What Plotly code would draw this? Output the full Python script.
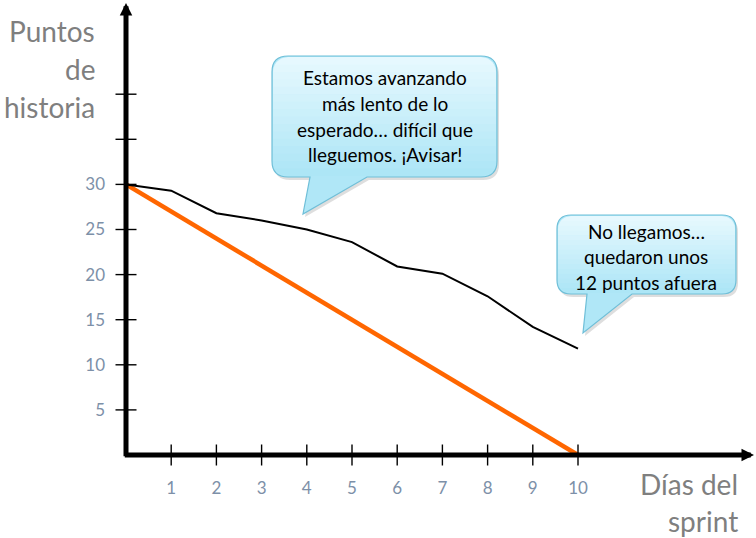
import plotly.graph_objects as go
import math

# ---------------- data ----------------
days = [0, 1, 2, 3, 4, 5, 6, 7, 8, 9, 10]
actual = [30, 29.3, 26.8, 26.0, 25.0, 23.6, 20.9, 20.1, 17.6, 14.2, 11.8]
ideal = [30, 27, 24, 21, 18, 15, 12, 9, 6, 3, 0]
x_ticks = [1, 2, 3, 4, 5, 6, 7, 8, 9, 10]
x_tick_labels = ["1", "2", "3", "4", "5", "6", "7", "8", "9", "10"]
y_ticks = [5, 10, 15, 20, 25, 30, 35, 40]
y_label_vals = [5, 10, 15, 20, 25, 30]
y_label_text = ["5", "10", "15", "20", "25", "30"]
callout1_lines = ["Estamos avanzando", "más lento de lo",
                  "esperado… difícil que", "lleguemos. ¡Avisar!"]
callout2_lines = ["No llegamos…", "quedaron unos", "12 puntos afuera"]

# ---------------- layout geometry ----------------
W, H = 756, 538
ML, MB = 126, 83
PLOT_W, PLOT_H = W - ML, H - MB
X_PX_PER_UNIT = 45.2
Y_PX_PER_UNIT = 9.02
X_MAX = PLOT_W / X_PX_PER_UNIT
Y_MAX = PLOT_H / Y_PX_PER_UNIT
FONT = "Lato, Open Sans, sans-serif"
TICK_COLOR = "#7d90a8"
TITLE_COLOR = "#7f7f7f"


def pp(x, y):
    """pixel -> paper (plot-area) coords"""
    return (x - ML) / PLOT_W, (PLOT_H - y) / PLOT_H


def path_from(points_cmds):
    s = ""
    for cmd, pts in points_cmds:
        s += cmd
        s += " ".join("%.5f,%.5f" % pp(x, y) for x, y in pts) + " "
    return s + "Z"


def callout_path(x0, y0, x1, y1, r, tl, tr, tip, dx=0, dy=0):
    x0, x1, tl, tr = x0 + dx, x1 + dx, tl + dx, tr + dx
    y0, y1 = y0 + dy, y1 + dy
    tip = (tip[0] + dx, tip[1] + dy)
    cmds = [
        ("M", [(x0 + r, y0)]), ("L", [(x1 - r, y0)]),
        ("Q", [(x1, y0), (x1, y0 + r)]), ("L", [(x1, y1 - r)]),
        ("Q", [(x1, y1), (x1 - r, y1)]), ("L", [(tr, y1)]),
        ("L", [tip]), ("L", [(tl, y1)]), ("L", [(x0 + r, y1)]),
        ("Q", [(x0, y1), (x0, y1 - r)]), ("L", [(x0, y0 + r)]),
        ("Q", [(x0, y0), (x0 + r, y0)]),
    ]
    return path_from(cmds)


def rr_extent(x0, y0, x1, y1, r, y):
    if y < y0 + r:
        d = y0 + r - y
    elif y > y1 - r:
        d = y - (y1 - r)
    else:
        d = 0
    d = min(d, r)
    off = r - math.sqrt(max(r * r - d * d, 0))
    return x0 + off, x1 - off


def mix(c1, c2, t):
    a = [int(c1[i:i + 2], 16) for i in (1, 3, 5)]
    b = [int(c2[i:i + 2], 16) for i in (1, 3, 5)]
    return "#%02x%02x%02x" % tuple(round(a[k] + (b[k] - a[k]) * t) for k in range(3))


def callout_shapes(x0, y0, x1, y1, r, tl, tr, tip):
    shapes = []
    # shadow
    shapes.append(dict(type="path", xref="paper", yref="paper",
                       path=callout_path(x0, y0, x1, y1, r, tl, tr, tip, 2, 3),
                       fillcolor="rgba(0,0,0,0.13)", line=dict(width=0)))
    # base with border
    shapes.append(dict(type="path", xref="paper", yref="paper",
                       path=callout_path(x0, y0, x1, y1, r, tl, tr, tip),
                       fillcolor="#b0e7f7", line=dict(color="#6fbfd8", width=1.2)))
    # gradient bands inside the box
    top_c, bot_c = "#e8f9fe", "#abe5f6"
    n = 16
    ix0, iy0, ix1, iy1, ir = x0 + 1, y0 + 1, x1 - 1, y1 - 1, r - 1
    for i in range(n):
        ya = iy0 + (iy1 - iy0) * i / n
        yb = iy0 + (iy1 - iy0) * (i + 1) / n + (0.6 if i < n - 1 else 0)
        yb = min(yb, iy1)
        steps = 6
        ys = [ya + (yb - ya) * k / steps for k in range(steps + 1)]
        left = [(rr_extent(ix0, iy0, ix1, iy1, ir, y)[0], y) for y in ys]
        right = [(rr_extent(ix0, iy0, ix1, iy1, ir, y)[1], y) for y in reversed(ys)]
        pts = left + right
        cmds = [("M", [pts[0]])] + [("L", [p]) for p in pts[1:]]
        shapes.append(dict(type="path", xref="paper", yref="paper",
                           path=path_from(cmds),
                           fillcolor=mix(top_c, bot_c, (i + 0.5) / n),
                           line=dict(width=0)))
    return shapes


fig = go.Figure()

fig.add_trace(go.Scatter(x=days, y=ideal, mode="lines",
                         line=dict(color="#ff6600", width=4.5),
                         hoverinfo="skip", showlegend=False))
fig.add_trace(go.Scatter(x=days, y=actual, mode="lines",
                         line=dict(color="#000000", width=2),
                         hoverinfo="skip", showlegend=False))
# tick marks crossing the axes
fig.add_trace(go.Scatter(x=x_ticks, y=[0] * len(x_ticks), mode="markers",
                         marker=dict(symbol="line-ns", size=15,
                                     line=dict(color="black", width=1.4)),
                         cliponaxis=False, hoverinfo="skip", showlegend=False))
fig.add_trace(go.Scatter(x=[0] * len(y_ticks), y=y_ticks, mode="markers",
                         marker=dict(symbol="line-ew", size=15,
                                     line=dict(color="black", width=1.4)),
                         cliponaxis=False, hoverinfo="skip", showlegend=False))

shapes = []
shapes += callout_shapes(272, 56, 497, 177, 16, 310, 367, (303, 214))
shapes += callout_shapes(557, 215, 736, 294, 14, 587, 632, (583, 333))

annotations = []
# axes with arrowheads
annotations.append(dict(x=0, y=(PLOT_H - 3) / Y_PX_PER_UNIT, ax=0, ay=-0.3,
                        xref="x", yref="y", axref="x", ayref="y", text="",
                        showarrow=True, arrowhead=2, arrowsize=0.5,
                        arrowwidth=5, arrowcolor="black", standoff=0))
annotations.append(dict(x=(754 - ML) / X_PX_PER_UNIT, y=0, ax=-0.06, ay=0,
                        xref="x", yref="y", axref="x", ayref="y", text="",
                        showarrow=True, arrowhead=2, arrowsize=0.5,
                        arrowwidth=5, arrowcolor="black", standoff=0))

# axis titles
for txt, ypx in zip(["Puntos", "de", "historia"], [31, 69, 107]):
    x, y = pp(97, ypx)
    annotations.append(dict(x=x, y=y, xref="paper", yref="paper", text=txt,
                            showarrow=False, xanchor="right", yanchor="middle",
                            font=dict(family=FONT, size=28, color=TITLE_COLOR)))
for txt, ypx in zip(["Días del", "sprint"], [484, 521]):
    x, y = pp(740, ypx)
    annotations.append(dict(x=x, y=y, xref="paper", yref="paper", text=txt,
                            showarrow=False, xanchor="right", yanchor="middle",
                            font=dict(family=FONT, size=28, color=TITLE_COLOR)))

# callout texts
for i, txt in enumerate(callout1_lines):
    x, y = pp(385, 78 + i * 25.5)
    annotations.append(dict(x=x, y=y, xref="paper", yref="paper", text=txt,
                            showarrow=False, xanchor="center", yanchor="middle",
                            font=dict(family=FONT, size=19, color="black")))
for i, txt in enumerate(callout2_lines):
    x, y = pp(646, 231 + i * 25.5)
    annotations.append(dict(x=x, y=y, xref="paper", yref="paper", text=txt,
                            showarrow=False, xanchor="center", yanchor="middle",
                            font=dict(family=FONT, size=19, color="black")))

fig.update_layout(
    width=W, height=H,
    margin=dict(l=ML, r=0, t=0, b=MB, pad=0),
    paper_bgcolor="white", plot_bgcolor="white",
    showlegend=False,
    shapes=shapes, annotations=annotations,
    xaxis=dict(range=[0, X_MAX], showgrid=False, zeroline=False, showline=False,
               tickvals=x_ticks, ticktext=x_tick_labels, ticks="",
               ticklabelstandoff=21,
               tickfont=dict(family=FONT, size=17, color=TICK_COLOR),
               fixedrange=True),
    yaxis=dict(range=[0, Y_MAX], showgrid=False, zeroline=False, showline=False,
               tickvals=y_label_vals, ticktext=y_label_text, ticks="",
               ticklabelstandoff=20,
               tickfont=dict(family=FONT, size=17, color=TICK_COLOR),
               fixedrange=True),
)

fig.write_html("out.html")
